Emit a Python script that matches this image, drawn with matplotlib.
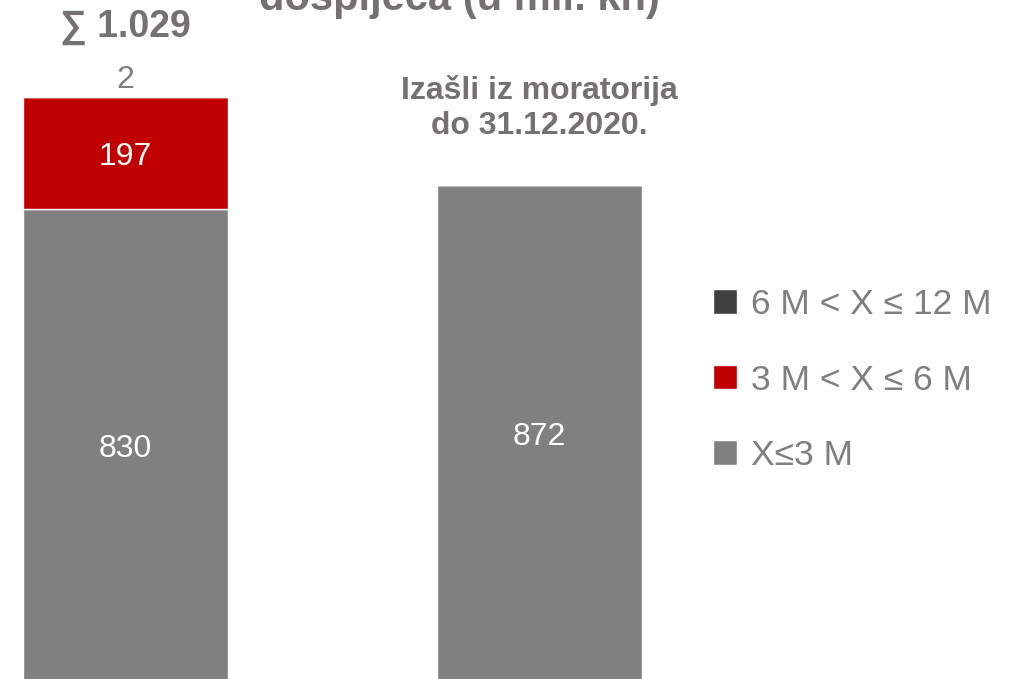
import matplotlib.pyplot as plt
import numpy as np

plt.rcParams['font.family'] = ['Liberation Sans', 'DejaVu Sans']

# podaci (u mil. kn)
kategorije = ['Ukupno', 'Izašli iz moratorija']
do_3m = [830, 872]
od_3_do_6m = [197, 0]
od_6_do_12m = [2, 0]
legenda = ['X≤3 M', '3 M < X ≤ 6 M', '6 M < X ≤ 12 M']
boje = ['#808080', '#C00000', '#404040']

TEKST_SIVA = '#767171'
LEG_SIVA = '#7f7f7f'

W, H = 1013, 679
fig = plt.figure(figsize=(W / 100, H / 100), dpi=100)
ax = fig.add_axes([0, 0, 1, 1])
ax.axis('off')

# skala: px po jedinici, dno stupaca je malo ispod ruba slike
s = 112 / 197
x = np.arange(len(kategorije))
ax.set_xlim(-125.5 / 413.5, (W - 125.5) / 413.5)
ax.set_ylim(2 / s, (H + 2) / s)
sirina = 205 / 413.5

dno = np.zeros(len(kategorije))
serije = [do_3m, od_3_do_6m, od_6_do_12m]
stupci = []
for vals, lab, c in zip(serije, legenda, boje):
    b = ax.bar(x, vals, sirina, bottom=dno, color=c, edgecolor='white',
               linewidth=1, label=lab)
    stupci.append(b)
    dno = dno + np.array(vals)

# oznake unutar segmenata
for i in range(len(kategorije)):
    ax.text(x[i], do_3m[i] / 2, str(do_3m[i]), ha='center',
            va='center_baseline', color='white', fontsize=23)
    if od_3_do_6m[i] > 0:
        ax.text(x[i], do_3m[i] + od_3_do_6m[i] / 2, str(od_3_do_6m[i]),
                ha='center', va='center_baseline', color='white', fontsize=23)

# mali segment i suma iznad prvog stupca
ukupno = int(dno[0])
ax.annotate(str(od_6_do_12m[0]), (x[0], ukupno), xytext=(0, 5.8),
            textcoords='offset points', ha='center', va='baseline',
            color=LEG_SIVA, fontsize=23)
ax.annotate('∑ ' + f'{ukupno:,}'.replace(',', '.'), (x[0], ukupno),
            xytext=(0, 42.5), textcoords='offset points', ha='center',
            va='baseline', color=TEKST_SIVA, fontsize=27, fontweight='bold')

ax.annotate('Izašli iz moratorija\ndo 31.12.2020.', (x[1], dno[1]),
            xytext=(0, 37), textcoords='offset points', ha='center',
            va='baseline', color=TEKST_SIVA, fontsize=23, fontweight='bold',
            linespacing=1.22)

fig.text(459 / W, 1 - 10 / H, 'dospijeća (u mil. kn)', ha='center',
         va='baseline', color=TEKST_SIVA, fontsize=30, fontweight='bold')

leg = fig.legend(handles=stupci[::-1], labels=legenda[::-1],
                 loc='upper left', bbox_to_anchor=(713 / W, 1 - 288 / H),
                 frameon=False, fontsize=25.5, handlelength=0.68,
                 handleheight=0.68, handletextpad=0.4, labelspacing=1.2,
                 borderpad=0, borderaxespad=0)
for t in leg.get_texts():
    t.set_color(LEG_SIVA)

plt.savefig('out.png', dpi=100)
